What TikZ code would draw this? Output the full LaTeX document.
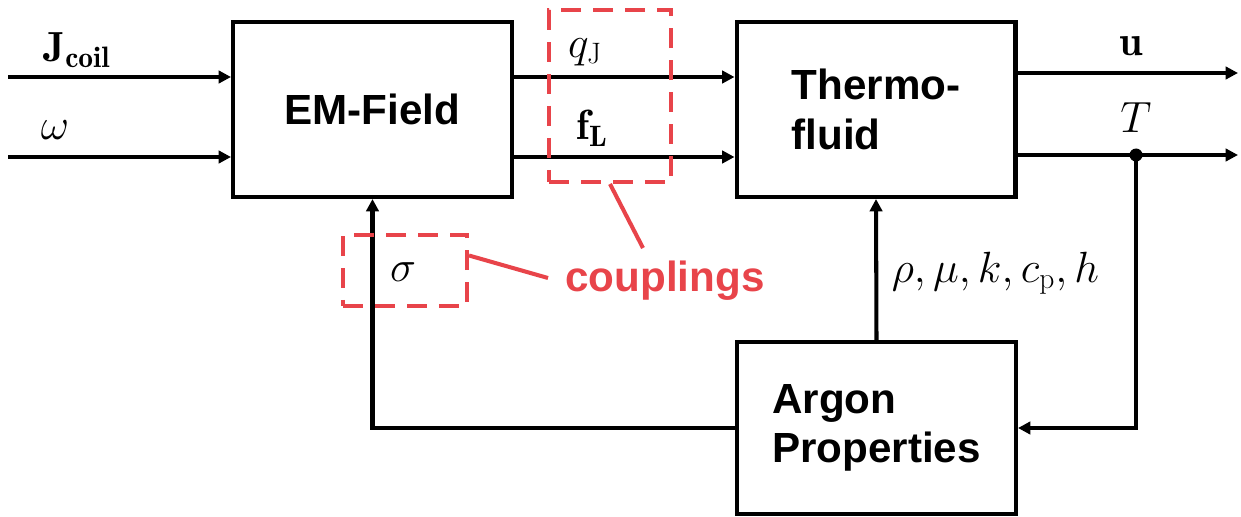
\documentclass[tikz,border=0pt]{standalone}
\usepackage{amsmath}
\usepackage{fontspec}
\setsansfont{Liberation Sans}
\usetikzlibrary{arrows.meta, positioning}
\definecolor{couplered}{RGB}{232,68,74}

\begin{document}
\begin{tikzpicture}[x=0.02cm, y=-0.02cm, >={Triangle[length=7pt,width=7pt]},
    line width=2.3pt, font=\fontsize{24}{28}\selectfont,
    block/.style={draw, minimum width=5.58cm, minimum height=3.5cm, inner sep=0pt,
      align=left, font=\sffamily\bfseries\fontsize{24}{28}\selectfont},
    couplebox/.style={draw=couplered, dash pattern=on 0.4cm off 0.24cm, inner sep=0pt},
    coupleline/.style={draw=couplered}]
    \useasboundingbox (0,0) rectangle (1241,517);
    % Blocks
    \node[block] (emfield) at (372.5,109.5) {EM-Field};
    \node[block] (thermo) at (876,109.5) {Thermo-\\fluid};
    \node[block, minimum height=3.44cm] (argon) at (876.5,428) {Argon\\Properties};
    % Inputs
    \coordinate (jin) at (8,77);
    \coordinate (win) at (8,157);
    \draw[->] (jin) -- (jin -| emfield.west);
    \draw[->] (win) -- (win -| emfield.west);
    \node (jlbl) at (77,50) {$\mathbf{J}_{\mathbf{coil}}$};
    \node (wlbl) at (55,130) {$\omega$};
    % Coupling EM-Field -> Thermo-fluid
    \draw[->] (emfield.east |- jin) -- (thermo.west |- jin);
    \draw[->] (emfield.east |- win) -- (thermo.west |- win);
    \node (qlbl) at (585,52) {$q_{\mathrm{J}}$};
    \node (flbl) at (592,128) {$\mathbf{f}_{\mathbf{L}}$};
    % Outputs
    \coordinate (uout) at (1238,73);
    \coordinate (tout) at (1238,155);
    \coordinate (tsplit) at (1136,155);
    \draw[->] (thermo.east |- uout) -- (uout);
    \draw[->] (thermo.east |- tout) -- (tout);
    \fill (tsplit) circle (6.5);
    \node (ulbl) at (1131,46) {$\mathbf{u}$};
    \node (tlbl) at (1136,118) {$T$};
    % Feedback loops
    \draw[->] (tsplit) |- (argon.east);
    \draw[->] (argon.north) -- (thermo.south);
    \draw[->] (argon.west) -| (emfield.south);
    \node[anchor=west] (plbl) at (884,273) {$\rho, \mu, k, c_{\mathrm{p}}, h$};
    \node (slbl) at (403,272) {$\sigma$};
    % Couplings
    \node[couplebox, minimum width=2.44cm, minimum height=3.44cm] (qbox) at (610,96) {};
    \node[couplebox, minimum width=2.48cm, minimum height=1.42cm] (sbox) at (405,270.5) {};
    \node[text=couplered, font=\sffamily\bfseries\fontsize{24}{28}\selectfont] (couplings) at (665,281) {couplings};
    \coordinate (qtip) at (643,248);
    \coordinate (stip) at (548,278);
    \draw[coupleline] (qbox.south) -- (qtip);
    \draw[coupleline] ([yshift=0.3cm]sbox.east) -- (stip);
\end{tikzpicture}
\end{document}
